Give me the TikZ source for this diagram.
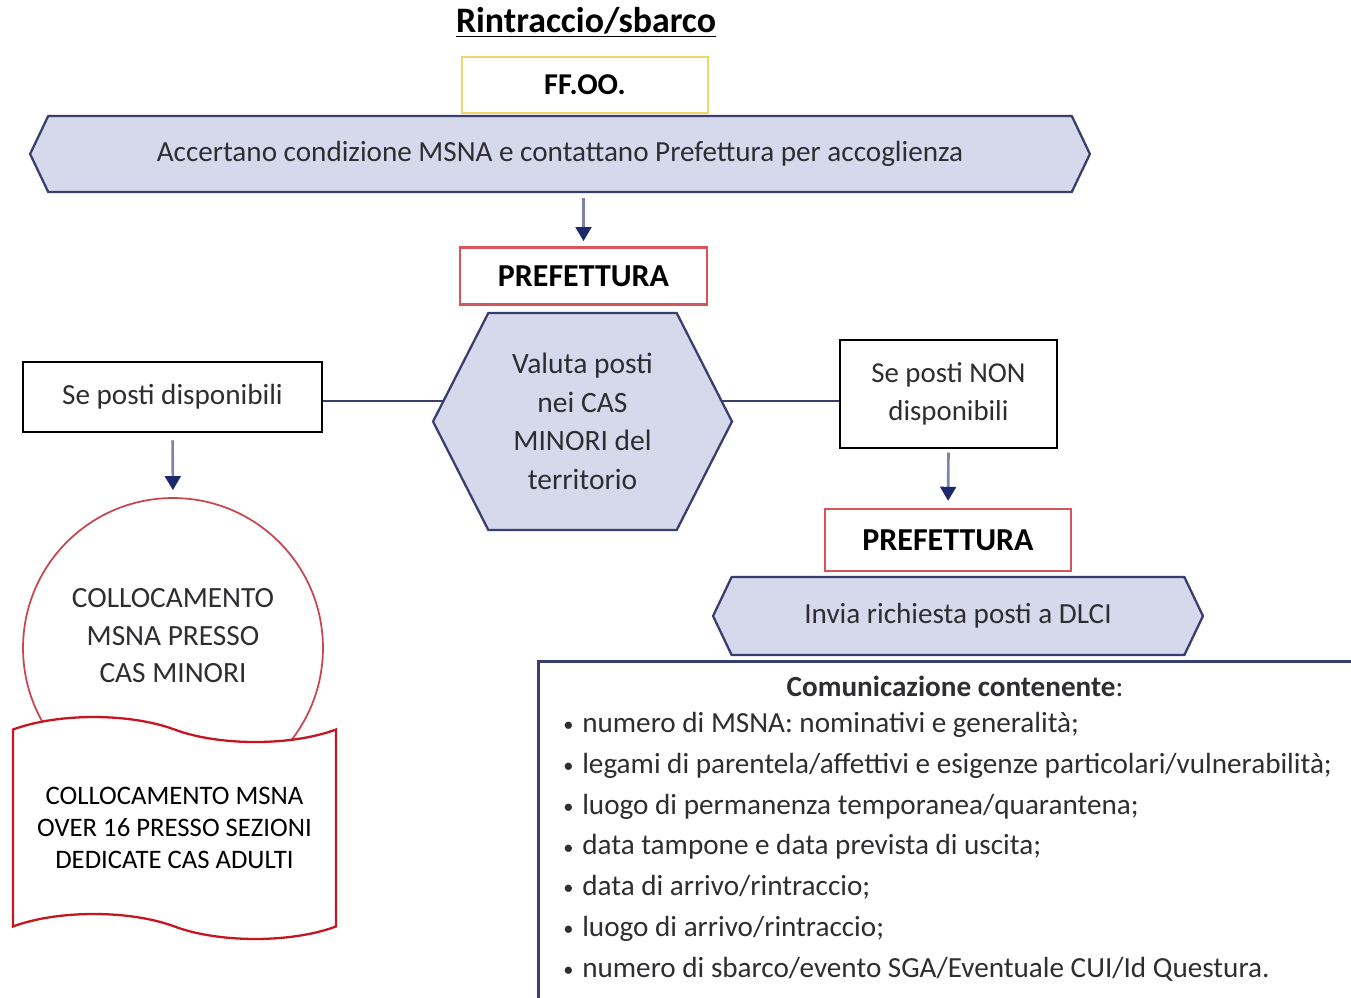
\documentclass[tikz,border=0pt]{standalone}
\usepackage{fontspec}
\setmainfont{Carlito}
\usepackage{tikz}
\usetikzlibrary{shapes.symbols, shapes.geometric, arrows.meta, positioning, calc, backgrounds}

\definecolor{lavfill}{RGB}{214,216,236}
\definecolor{navyline}{RGB}{58,62,110}
\definecolor{arrowshaft}{RGB}{125,130,172}
\definecolor{arrowtip}{RGB}{30,40,110}
\definecolor{prefred}{RGB}{214,84,90}
\definecolor{ffyellow}{RGB}{236,214,110}
\definecolor{circred}{RGB}{200,70,80}
\definecolor{docred}{RGB}{200,20,30}
\definecolor{txtgray}{RGB}{45,45,50}

\tikzstyle{plainbox} = [rectangle, draw=black, line width=1.4pt, fill=white, align=center, text=txtgray]
\tikzstyle{redbox} = [rectangle, draw=prefred, line width=1.3pt, fill=white, font=\fontsize{18.2}{21}\selectfont\bfseries]
\tikzstyle{chevron} = [signal, signal to=west and east, signal pointer angle=129, draw=navyline, fill=lavfill, line width=1.3pt, text=txtgray]
\tikzstyle{arrow} = [line width=1.5pt, draw=arrowshaft, -{Triangle[width=9pt,length=8pt,color=arrowtip]}]
\tikzstyle{link} = [line width=1.4pt, draw=navyline]

\newcommand{\smallbullet}{\raisebox{0.5pt}{\scalebox{0.7}{\textbullet}}\hspace{5pt}}

\begin{document}
\begin{tikzpicture}[x=0.02cm, y=-0.02cm, font=\fontsize{16.6}{19}\selectfont]
	\useasboundingbox (0,0) rectangle (1351,997);
	% top
	\node (title) at (586,22) {\fontsize{20.4}{23}\selectfont\bfseries\underline{Rintraccio/sbarco}};
	
	\node (ffoo) [rectangle, draw=ffyellow, line width=1.5pt, minimum width=4.92cm, minimum height=1.12cm, font=\fontsize{17.2}{20}\selectfont\bfseries] at (585,85) {FF.OO.};
	
	\node (accertano) [chevron, minimum width=21.2cm, minimum height=1.52cm] at (560,154) {Accertano condizione MSNA e contattano Prefettura per accoglienza};
	
	\node (pref1) [redbox, minimum width=4.94cm, minimum height=1.14cm] at (583.5,276) {PREFETTURA};
	
	\node (hex) [chevron, signal pointer angle=126, minimum width=5.98cm, minimum height=4.34cm, align=center, font=\fontsize{16.8}{22}\selectfont] at (582.5,421.5) {Valuta posti\\nei CAS\\MINORI del\\territorio};
	
	% branches
	\node (sepos) [plainbox, minimum width=5.98cm, minimum height=1.4cm] at (172.5,397) {Se posti disponibili};
	
	\node (nonpos) [plainbox, minimum width=4.34cm, minimum height=2.16cm, font=\fontsize{16.4}{22}\selectfont] at (948.5,394) {Se posti NON\\disponibili};
	
	\node (coll) [circle, draw=circred, line width=1pt, fill=white, minimum size=6cm,
		label={[align=center, text=txtgray, yshift=7pt, font=\fontsize{16.7}{21.3}\selectfont]center:COLLOCAMENTO\\MSNA PRESSO\\CAS MINORI}] at (173,648) {};
	
	\node (over16) [tape, tape bend top=out and in, tape bend bottom=out and in, tape bend height=0.5cm, draw=docred, line width=1.3pt, fill=white, minimum width=6.46cm, minimum height=4.44cm, align=center, font=\fontsize{15.2}{18.2}\selectfont] at (174.5,828) {COLLOCAMENTO MSNA\\OVER 16 PRESSO SEZIONI\\DEDICATE CAS ADULTI};
	
	\node (pref2) [redbox, minimum width=4.92cm, minimum height=1.24cm] at (948,540) {PREFETTURA};
	
	\node (invia) [chevron, minimum width=9.8cm, minimum height=1.56cm] at (958,616) {Invia richiesta posti a DLCI};
	
	% communication box
	\node (comm) [rectangle, draw=navyline, line width=1.5pt, anchor=north west, minimum width=16.8cm, minimum height=7cm] at (537,660) {};
	
	\node (commtitle) [text=txtgray] at (955,686) {\textbf{Comunicazione contenente}:};
	
	\node (commlist) [anchor=north west, align=left, inner sep=0pt, text=txtgray, font=\fontsize{16.6}{23.2}\selectfont] at (563,712) {%
		\smallbullet numero di MSNA: nominativi e generalità;\\
		\smallbullet legami di parentela/affettivi e esigenze particolari/vulnerabilità;\\
		\smallbullet luogo di permanenza temporanea/quarantena;\\
		\smallbullet data tampone e data prevista di uscita;\\
		\smallbullet data di arrivo/rintraccio;\\
		\smallbullet luogo di arrivo/rintraccio;\\
		\smallbullet numero di sbarco/evento SGA/Eventuale CUI/Id Questura.};
	
	% arrows
	\draw [arrow, shorten <=3pt, shorten >=3pt] (pref1.north |- accertano.south) -- (pref1.north);
	\draw [arrow, shorten <=4pt, shorten >=4pt] (sepos.south) -- (coll.north);
	\draw [arrow, shorten <=2pt, shorten >=4pt] (nonpos.south) -- (pref2.north);
	
	% links behind the hexagon
	\begin{pgfonlayer}{background}
		\draw [link] ([yshift=-2.3pt] sepos.east) -- ([yshift=-2.3pt] sepos.east -| hex.center);
		\draw [link] ([yshift=-2.3pt] hex.center |- sepos.east) -- ([yshift=-2.3pt] nonpos.west |- sepos.east);
	\end{pgfonlayer}
\end{tikzpicture}
\end{document}
